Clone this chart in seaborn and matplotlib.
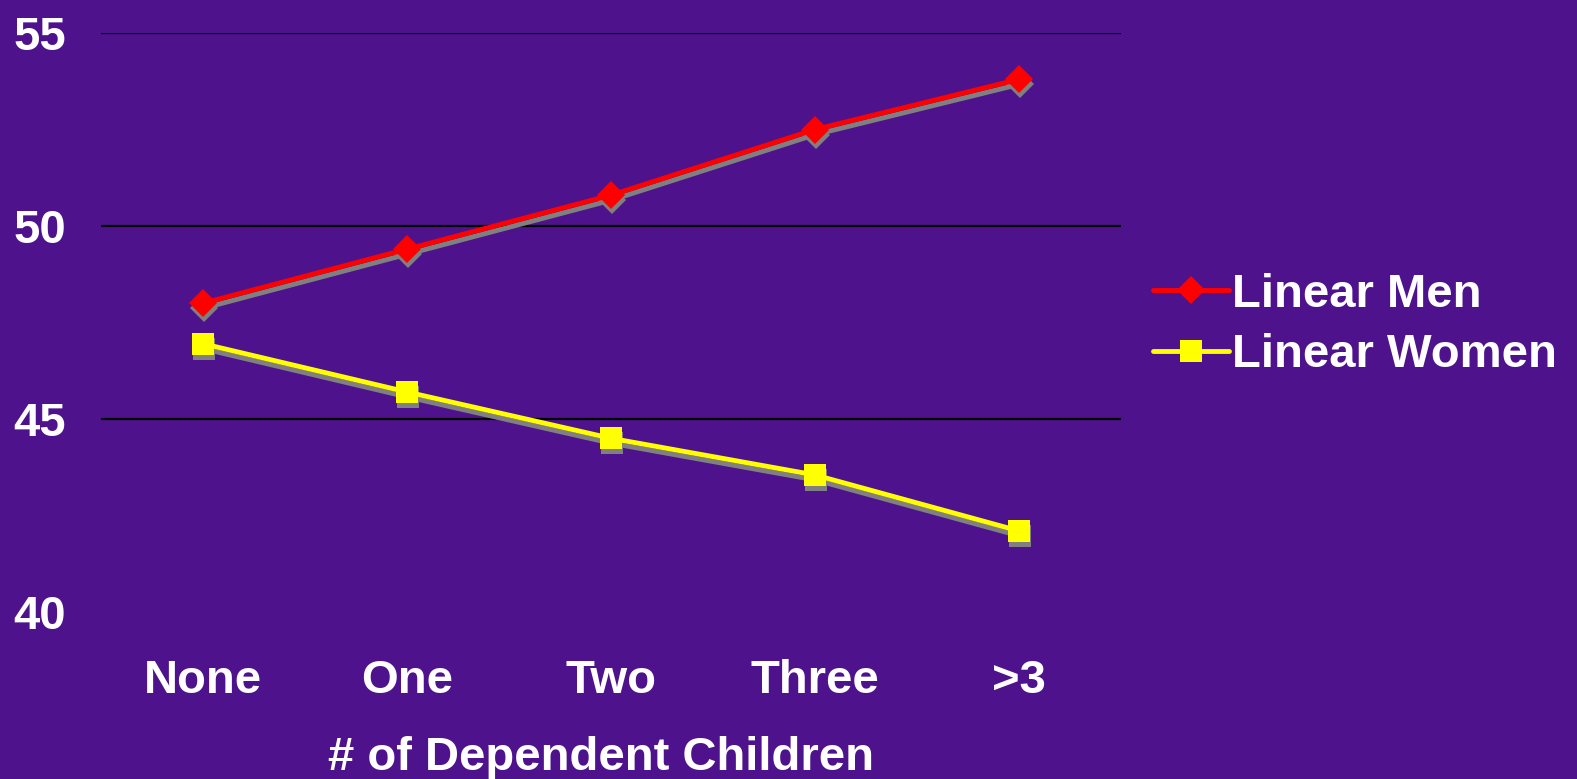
import matplotlib
matplotlib.use("Agg")
import matplotlib.pyplot as plt
import matplotlib.transforms as mtransforms
import seaborn as sns
import pandas as pd

# Age trend by number of dependent children
children = ["None", "One", "Two", "Three", ">3"]
linear_men = [48.0, 49.4, 50.8, 52.5, 53.8]
linear_women = [46.95, 45.7, 44.5, 43.55, 42.1]
y_ticks = [40, 45, 50, 55]

BG = "#4E138C"
FONT = "Liberation Sans"
FS = 34

sns.set_theme(style="white")
plt.rcParams["font.family"] = FONT

fig = plt.figure(figsize=(15.77, 7.79), dpi=100, facecolor=BG)
ax = fig.add_axes([101 / 1577, 1 - 612 / 779, 1020 / 1577, (612 - 33) / 779])
ax.set_facecolor(BG)

df = pd.DataFrame({
    "children": children * 2,
    "value": linear_men + linear_women,
    "series": ["Linear Men"] * 5 + ["Linear Women"] * 5,
})

styles = {
    "Linear Men": dict(color="#FF0000", marker="D", ms=14),
    "Linear Women": dict(color="#FFFF00", marker="s", ms=15.5),
}

# drop shadows
shadow_offset = mtransforms.ScaledTranslation(0.5 / 100, -5 / 100, fig.dpi_scale_trans)
for name, st in styles.items():
    sub = df[df["series"] == name]
    n_before = len(ax.lines)
    sns.lineplot(data=sub, x="children", y="value", ax=ax, color="#808080",
                 marker=st["marker"], markersize=st["ms"], markeredgewidth=0,
                 linewidth=3.5, legend=False, sort=False)
    for ln in ax.lines[n_before:]:
        ln.set_transform(ax.transData + shadow_offset)

# main series
handles = []
for name, st in styles.items():
    sub = df[df["series"] == name]
    n_before = len(ax.lines)
    sns.lineplot(data=sub, x="children", y="value", ax=ax, color=st["color"],
                 marker=st["marker"], markersize=st["ms"], markeredgewidth=0,
                 linewidth=3.5, legend=False, sort=False)
    ln = ax.lines[n_before]
    ln.set_label(name)
    handles.append(ln)

ax.set_xlim(-0.5, 4.5)
ax.set_ylim(40, 55)
ax.set_yticks(y_ticks)
ax.set_yticklabels([str(v) for v in y_ticks])
for v in y_ticks[1:]:
    ax.axhline(v, color="black", linewidth=1.6, zorder=0)

for s in ax.spines.values():
    s.set_visible(False)

ax.tick_params(axis="both", length=0, colors="white", labelsize=FS)
ax.tick_params(axis="y", pad=25)
ax.tick_params(axis="x", pad=34)
for lab in ax.get_xticklabels() + ax.get_yticklabels():
    lab.set_fontweight("bold")
    lab.set_family(FONT)
    lab.set_color("white")

ax.set_xlabel("# of Dependent Children", fontsize=FS, fontweight="bold",
              family=FONT, color="white")
ax.xaxis.set_label_coords(0.49, -0.252)
ax.xaxis.label.set_va("center")
ax.set_ylabel("")

leg = fig.legend(handles=handles, labels=[h.get_label() for h in handles],
                 loc="center left", bbox_to_anchor=(1153 / 1577, 1 - 325 / 779),
                 frameon=False, prop=dict(family=FONT, weight="bold", size=FS),
                 handlelength=1.6, handletextpad=0.08, labelspacing=0.35,
                 borderaxespad=0, borderpad=0)
for t in leg.get_texts():
    t.set_color("white")

fig.savefig("out.png", dpi=100, facecolor=BG)
